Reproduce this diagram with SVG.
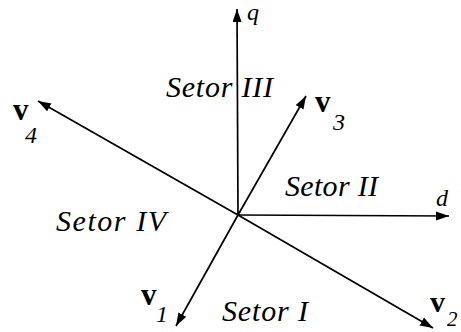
<svg xmlns="http://www.w3.org/2000/svg" width="461" height="332" viewBox="0 0 461 332">
<style>
.ax{stroke:#000;stroke-width:1.7;fill:none}
text{fill:#000}
</style>
<defs>
<marker id="ah" markerUnits="userSpaceOnUse" markerWidth="14" markerHeight="10" refX="13" refY="4.5" orient="auto">
<path d="M0,0 L13,4.5 L0,9 z" fill="#000"/>
</marker>
</defs>
<rect width="461" height="332" fill="#fff"/>
<g id="connectors">
<line class="ax" x1="238" y1="215" x2="237" y2="9" marker-end="url(#ah)"/>
<line class="ax" x1="238" y1="215" x2="449" y2="216" marker-end="url(#ah)"/>
<line class="ax" x1="238" y1="215" x2="306" y2="96" marker-end="url(#ah)"/>
<line class="ax" x1="238" y1="215" x2="38" y2="101" marker-end="url(#ah)"/>
<line class="ax" x1="238" y1="215" x2="433" y2="328" marker-end="url(#ah)"/>
<line class="ax" x1="238" y1="215" x2="176" y2="326" marker-end="url(#ah)"/>
</g>
<g font-family="'Liberation Serif', 'Times New Roman', serif">
<g id="axis-q" font-style="italic" font-size="24"><text x="247" y="20">q</text></g>
<g id="axis-d" font-style="italic" font-size="24"><text x="436" y="206">d</text></g>
<g id="v3"><text x="315" y="112" font-weight="bold" font-size="31">v</text><text x="333" y="130" font-style="italic" font-size="24">3</text></g>
<g id="v4"><text x="13" y="120" font-weight="bold" font-size="31">v</text><text x="25" y="143" font-style="italic" font-size="24">4</text></g>
<g id="v1"><text x="141" y="305" font-weight="bold" font-size="31">v</text><text x="156" y="322" font-style="italic" font-size="24">1</text></g>
<g id="v2"><text x="430" y="312" font-weight="bold" font-size="30">v</text><text x="447" y="326" font-style="italic" font-size="21">2</text></g>
<g font-style="italic" font-size="30">
<g id="setor-iii"><text x="166" y="97" textLength="107" lengthAdjust="spacing">Setor III</text></g>
<g id="setor-ii"><text x="285" y="196" textLength="93" lengthAdjust="spacing">Setor II</text></g>
<g id="setor-iv"><text x="56" y="231" textLength="110" lengthAdjust="spacing">Setor IV</text></g>
<g id="setor-i"><text x="222" y="321" textLength="86" lengthAdjust="spacing">Setor I</text></g>
</g>
</g>
</svg>
